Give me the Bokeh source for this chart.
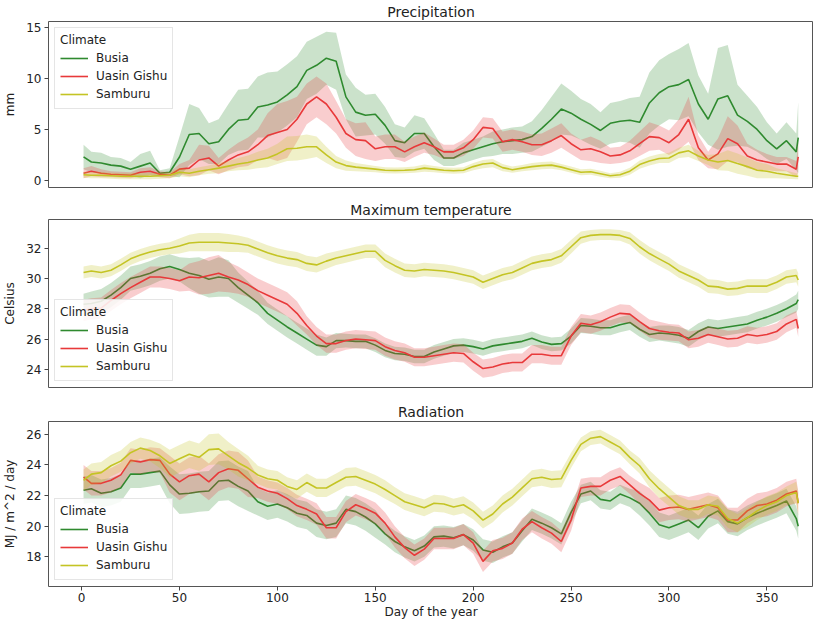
from bokeh.plotting import figure
from bokeh.layouts import column
from bokeh.models import Range1d, FixedTicker
from bokeh.embed import file_html
from bokeh.resources import INLINE

FONT = "DejaVu Sans"

# Day of the year at which values were read
days = [1, 5, 10, 15, 20, 25, 30, 35, 40, 45,
        50, 55, 60, 65, 70, 75, 80, 85, 90, 95,
        100, 105, 110, 115, 120, 125, 130, 135, 140, 145,
        150, 155, 160, 165, 170, 175, 180, 185, 190, 195,
        200, 205, 210, 215, 220, 225, 230, 235, 240, 245,
        250, 255, 260, 265, 270, 275, 280, 285, 290, 295,
        300, 305, 310, 315, 320, 325, 330, 335, 340, 345,
        350, 355, 360, 365, 366]

climates = ["Busia", "Uasin Gishu", "Samburu"]
colors = ["#2f8a2f", "#e8393a", "#c4c424"]

# ---------------- Precipitation (mm) ----------------
prec_busia = [2.3, 1.8, 1.7, 1.5, 1.4, 1.1, 1.4, 1.7, 0.7, 0.8,
              2.3, 4.5, 4.6, 3.6, 3.8, 5.0, 5.9, 6.0, 7.2, 7.4,
              7.7, 8.4, 9.2, 10.8, 11.3, 12.0, 11.7, 8.2, 6.7, 6.4,
              6.5, 5.4, 3.9, 3.7, 4.6, 4.6, 3.3, 2.2, 2.2, 2.7,
              3.0, 3.3, 3.6, 3.8, 3.9, 4.0, 4.3, 5.1, 6.0, 7.0,
              6.6, 6.0, 5.5, 4.9, 5.6, 5.8, 5.9, 5.7, 7.6, 8.6,
              9.2, 9.4, 9.9, 7.5, 6.0, 8.0, 8.3, 6.4, 5.8, 5.0,
              3.9, 3.1, 3.9, 2.8, 4.2]
prec_busia_sd = [1.2, 1.0, 1.0, 0.8, 0.8, 0.7, 1.2, 1.2, 0.3, 0.4,
                 2.0, 3.0, 2.5, 2.0, 2.2, 2.5, 3.0, 3.0, 3.0, 3.2,
                 3.0, 3.0, 3.0, 2.8, 2.8, 2.6, 2.8, 2.2, 2.4, 2.0,
                 2.0, 1.8, 1.6, 1.5, 1.8, 1.5, 1.3, 0.8, 0.8, 1.0,
                 1.0, 1.0, 1.2, 1.2, 1.3, 1.3, 1.5, 1.8, 2.2, 2.5,
                 2.2, 2.0, 2.0, 1.8, 2.0, 2.0, 2.2, 2.5, 3.0, 3.2,
                 3.2, 3.5, 3.6, 2.8, 2.5, 5.0, 5.0, 3.0, 2.5, 2.2,
                 1.8, 1.5, 1.8, 1.8, 3.5]
prec_uasin = [0.7, 0.9, 0.7, 0.6, 0.55, 0.5, 0.8, 0.9, 0.6, 0.5,
              1.1, 1.2, 2.0, 2.2, 1.4, 2.0, 2.5, 2.8, 3.5, 4.4,
              4.7, 5.0, 6.0, 7.5, 8.2, 7.5, 6.2, 4.6, 4.0, 3.9,
              3.1, 3.3, 3.3, 2.8, 3.3, 3.7, 3.3, 2.8, 2.8, 3.2,
              4.0, 5.2, 5.1, 3.8, 4.0, 3.8, 3.5, 3.5, 3.9, 4.4,
              3.6, 3.0, 3.1, 2.8, 2.4, 2.5, 2.9, 3.6, 4.3, 4.2,
              3.7, 4.5, 6.0, 3.2, 2.0, 2.6, 4.1, 3.6, 2.4, 2.0,
              1.8, 1.6, 1.6, 1.1, 2.3]
prec_uasin_sd = [0.5, 0.5, 0.4, 0.3, 0.3, 0.3, 0.4, 0.4, 0.3, 0.3,
                 0.5, 0.8, 1.5, 1.2, 0.8, 1.0, 1.2, 1.4, 1.5, 2.2,
                 2.8, 2.8, 2.2, 2.0, 2.0, 2.0, 1.6, 1.4, 1.6, 1.8,
                 1.2, 1.2, 1.2, 1.0, 1.0, 1.0, 0.8, 0.7, 0.7, 0.8,
                 0.9, 1.0, 1.0, 1.0, 1.0, 1.0, 1.0, 1.1, 1.2, 1.2,
                 1.0, 1.0, 1.2, 1.1, 0.8, 0.8, 1.0, 1.2, 1.4, 1.2,
                 1.2, 1.5, 2.2, 1.2, 0.8, 1.5, 2.2, 1.8, 1.2, 1.0,
                 0.8, 0.7, 0.7, 0.8, 1.5]
prec_samburu = [0.55, 0.5, 0.5, 0.45, 0.4, 0.4, 0.4, 0.4, 0.45, 0.5,
                0.8, 0.7, 0.9, 1.05, 1.2, 1.4, 1.6, 1.75, 2.0, 2.2,
                2.6, 3.1, 3.15, 3.3, 3.3, 2.5, 1.8, 1.45, 1.3, 1.2,
                1.1, 1.0, 0.97, 1.0, 1.05, 1.2, 1.1, 1.0, 0.95, 1.0,
                1.35, 1.6, 1.7, 1.25, 1.05, 1.2, 1.35, 1.45, 1.5, 1.3,
                1.05, 0.8, 0.85, 0.65, 0.45, 0.55, 0.9, 1.55, 1.9, 2.15,
                2.2, 2.7, 2.9, 2.4, 2.0, 1.8, 1.95, 1.65, 1.35, 1.0,
                0.9, 0.7, 0.55, 0.4, 0.4]
prec_samburu_sd = [0.3, 0.3, 0.3, 0.3, 0.3, 0.3, 0.3, 0.3, 0.3, 0.3,
                   0.4, 0.4, 0.4, 0.4, 0.5, 0.5, 0.6, 0.7, 0.8, 0.9,
                   1.0, 1.2, 1.2, 1.2, 1.0, 0.8, 0.6, 0.5, 0.4, 0.35,
                   0.3, 0.3, 0.3, 0.3, 0.3, 0.35, 0.3, 0.3, 0.3, 0.3,
                   0.35, 0.4, 0.4, 0.35, 0.3, 0.3, 0.35, 0.35, 0.35, 0.3,
                   0.3, 0.3, 0.3, 0.3, 0.25, 0.3, 0.35, 0.4, 0.45, 0.45,
                   0.5, 0.5, 0.6, 0.5, 0.5, 0.8, 1.0, 1.0, 0.9, 0.8,
                   0.7, 0.5, 0.4, 0.3, 0.3]

# ---------------- Maximum temperature (Celsius) ----------------
tmax_busia = [28.3, 28.35, 28.5, 28.9, 29.4, 30.0, 30.15, 30.35, 30.65, 30.8,
              30.6, 30.35, 30.2, 29.95, 30.1, 30.0, 29.4, 28.9, 28.4, 27.7,
              27.25, 26.8, 26.4, 26.0, 25.6, 25.5, 25.9, 25.9, 25.85, 25.85,
              25.6, 25.25, 25.05, 25.0, 24.85, 24.85, 25.15, 25.35, 25.55, 25.6,
              25.5, 25.35, 25.55, 25.65, 25.75, 25.85, 26.05, 25.8, 25.65, 25.7,
              26.2, 26.9, 26.85, 26.75, 26.75, 26.95, 27.1, 26.65, 26.3, 26.4,
              26.35, 26.25, 26.05, 26.5, 26.8, 26.7, 26.8, 26.9, 27.0, 27.25,
              27.45, 27.7, 28.0, 28.35, 28.6]
tmax_busia_sd = [0.7, 0.8, 0.8, 0.8, 0.8, 0.8, 0.8, 0.8, 0.8, 0.8,
                 0.8, 1.0, 1.2, 1.2, 1.3, 1.2, 1.0, 0.9, 0.8, 0.7,
                 0.7, 0.7, 0.7, 0.7, 0.7, 0.6, 0.5, 0.45, 0.45, 0.45,
                 0.45, 0.45, 0.45, 0.45, 0.45, 0.45, 0.45, 0.45, 0.45, 0.45,
                 0.45, 0.45, 0.45, 0.45, 0.45, 0.45, 0.45, 0.45, 0.45, 0.45,
                 0.5, 0.5, 0.5, 0.5, 0.5, 0.5, 0.5, 0.5, 0.5, 0.5,
                 0.55, 0.55, 0.55, 0.55, 0.55, 0.55, 0.55, 0.55, 0.55, 0.55,
                 0.55, 0.55, 0.55, 0.6, 0.6]
tmax_uasin = [27.9, 28.0, 28.05, 28.55, 29.0, 29.4, 29.75, 30.1, 30.1, 30.0,
              29.85, 30.1, 30.05, 30.2, 30.35, 30.1, 29.9, 29.6, 29.2, 28.9,
              28.6, 28.3, 27.7, 26.9, 26.2, 25.7, 25.7, 25.9, 26.0, 25.95,
              25.9, 25.5, 25.25, 25.1, 24.8, 24.8, 24.9, 25.0, 25.1, 25.05,
              24.5, 24.05, 24.15, 24.35, 24.45, 24.45, 25.0, 25.0, 24.9, 24.9,
              26.2, 27.05, 26.95, 27.15, 27.45, 27.7, 27.65, 27.15, 26.7, 26.55,
              26.45, 26.4, 25.95, 26.05, 26.3, 26.15, 26.0, 26.05, 26.3, 26.2,
              26.3, 26.5, 27.0, 27.3, 26.7]
tmax_uasin_sd = [0.7, 0.7, 0.7, 0.7, 0.7, 0.7, 0.7, 0.7, 0.7, 0.7,
                 0.7, 0.9, 1.1, 1.2, 1.2, 1.0, 0.9, 0.8, 0.8, 0.8,
                 0.8, 0.8, 0.8, 0.6, 0.6, 0.6, 0.6, 0.6, 0.6, 0.6,
                 0.6, 0.6, 0.6, 0.6, 0.6, 0.6, 0.6, 0.6, 0.6, 0.6,
                 0.6, 0.6, 0.6, 0.6, 0.6, 0.6, 0.6, 0.6, 0.6, 0.6,
                 0.6, 0.6, 0.6, 0.6, 0.6, 0.6, 0.6, 0.6, 0.6, 0.6,
                 0.55, 0.55, 0.55, 0.55, 0.55, 0.55, 0.55, 0.55, 0.55, 0.55,
                 0.55, 0.55, 0.55, 0.55, 0.55]
tmax_samburu = [30.4, 30.5, 30.4, 30.55, 30.9, 31.3, 31.55, 31.75, 31.9, 32.0,
                32.15, 32.35, 32.4, 32.4, 32.4, 32.35, 32.3, 32.2, 31.95, 31.7,
                31.5, 31.35, 31.25, 31.0, 30.9, 31.15, 31.35, 31.5, 31.65, 31.8,
                31.8, 31.2, 30.85, 30.55, 30.5, 30.6, 30.55, 30.5, 30.4, 30.25,
                30.1, 29.75, 30.0, 30.25, 30.4, 30.7, 31.0, 31.15, 31.25, 31.5,
                32.1, 32.7, 32.85, 32.9, 32.9, 32.85, 32.65, 32.1, 31.65, 31.3,
                30.95, 30.5, 30.2, 29.9, 29.5, 29.45, 29.3, 29.35, 29.5, 29.5,
                29.5, 29.75, 30.1, 30.2, 29.9]
tmax_samburu_sd = [0.4, 0.4, 0.4, 0.4, 0.4, 0.4, 0.4, 0.4, 0.4, 0.4,
                   0.5, 0.55, 0.6, 0.6, 0.6, 0.6, 0.55, 0.5, 0.5, 0.5,
                   0.5, 0.5, 0.5, 0.5, 0.5, 0.5, 0.45, 0.45, 0.45, 0.45,
                   0.45, 0.45, 0.45, 0.45, 0.45, 0.45, 0.45, 0.45, 0.45, 0.45,
                   0.45, 0.45, 0.45, 0.45, 0.45, 0.45, 0.45, 0.45, 0.45, 0.45,
                   0.45, 0.4, 0.35, 0.35, 0.35, 0.35, 0.4, 0.45, 0.45, 0.45,
                   0.45, 0.45, 0.45, 0.45, 0.45, 0.45, 0.45, 0.45, 0.45, 0.45,
                   0.45, 0.45, 0.45, 0.45, 0.45]

# ---------------- Radiation (MJ / m^2 / day) ----------------
rad_busia = [22.35, 22.45, 22.15, 22.25, 22.5, 23.4, 23.4, 23.5, 23.6, 22.7,
             22.1, 22.15, 22.25, 22.3, 22.95, 23.0, 22.6, 22.3, 21.6, 21.3,
             21.45, 21.2, 20.85, 20.7, 20.2, 20.05, 20.2, 21.1, 20.95, 20.6,
             20.15, 19.5, 19.0, 18.65, 18.4, 18.7, 19.3, 19.35, 19.25, 19.45,
             19.1, 18.45, 18.3, 18.65, 18.9, 19.7, 20.45, 20.2, 19.9, 19.5,
             20.9, 22.1, 22.3, 21.75, 21.65, 22.1, 21.85, 21.5, 20.85, 20.1,
             19.9, 20.15, 20.4, 19.9, 20.65, 21.0, 20.3, 20.15, 20.55, 20.85,
             21.1, 21.35, 21.65, 20.5, 20.0]
rad_busia_sd = [0.9, 0.9, 0.9, 0.9, 0.9, 0.9, 0.9, 0.9, 0.9, 1.2,
                1.3, 1.3, 1.3, 1.3, 1.3, 1.3, 1.3, 1.3, 0.9, 0.9,
                0.9, 0.9, 0.9, 0.9, 0.9, 0.9, 0.9, 0.9, 0.9, 0.9,
                0.9, 0.7, 0.7, 0.7, 0.7, 0.7, 0.7, 0.7, 0.7, 0.7,
                0.7, 0.7, 0.7, 0.7, 0.7, 0.7, 0.7, 0.7, 0.7, 0.7,
                0.7, 0.6, 0.6, 0.6, 0.6, 0.6, 0.6, 0.8, 0.8, 0.8,
                0.8, 0.8, 0.8, 0.8, 0.8, 0.8, 0.8, 0.8, 0.8, 0.8,
                0.8, 0.8, 0.8, 0.8, 0.8]
rad_uasin = [23.2, 22.8, 22.8, 23.0, 23.35, 24.3, 24.2, 24.35, 24.3, 23.4,
             22.9, 23.3, 23.4, 22.9, 23.5, 23.75, 23.65, 23.1, 22.55, 22.3,
             22.15, 21.8, 21.35, 21.1, 20.8, 19.9, 19.9, 20.95, 21.4, 21.15,
             20.85, 20.2, 19.3, 18.6, 18.1, 18.5, 19.2, 19.2, 19.2, 19.45,
             18.9, 17.7, 18.4, 18.55, 18.9, 19.8, 20.3, 19.9, 19.55, 19.0,
             20.4, 22.5, 22.6, 22.6, 23.0, 23.25, 22.7, 22.15, 21.7, 21.05,
             21.2, 21.25, 21.1, 21.25, 21.4, 21.2, 20.4, 20.4, 21.0, 21.35,
             21.45, 21.7, 22.1, 22.3, 21.5]
rad_uasin_sd = [0.8, 0.8, 0.8, 0.8, 0.8, 0.8, 0.8, 0.8, 0.8, 1.2,
                1.2, 1.2, 1.2, 1.2, 1.2, 1.2, 1.2, 1.2, 0.7, 0.7,
                0.7, 0.7, 0.7, 0.7, 0.7, 0.7, 0.7, 0.7, 0.7, 0.7,
                0.7, 0.7, 0.7, 0.7, 0.7, 0.7, 0.7, 0.7, 0.7, 0.7,
                0.7, 0.7, 0.7, 0.7, 0.7, 0.7, 0.7, 0.7, 0.7, 0.7,
                0.7, 0.6, 0.6, 0.6, 0.6, 0.6, 0.6, 0.7, 0.8, 0.8,
                0.8, 0.8, 0.8, 0.8, 0.8, 0.8, 0.8, 0.8, 0.8, 0.8,
                0.8, 0.8, 0.8, 0.8, 0.8]
rad_samburu = [23.0, 23.4, 23.5, 23.95, 24.25, 24.8, 25.1, 24.95, 24.6, 24.1,
               24.4, 24.7, 24.5, 25.0, 25.05, 24.6, 24.15, 23.8, 23.35, 23.1,
               23.0, 22.6, 22.4, 22.85, 22.5, 22.5, 22.85, 23.2, 23.25, 23.0,
               22.75, 22.4, 22.0, 21.6, 21.4, 21.2, 21.5, 21.45, 21.25, 21.4,
               21.0, 20.4, 20.8, 21.45, 21.9, 22.5, 23.1, 23.2, 23.05, 23.1,
               24.3, 25.35, 25.75, 25.85, 25.5, 25.15, 24.5, 23.95, 23.1, 22.45,
               21.9, 21.35, 21.1, 21.1, 21.4, 21.3, 20.5, 20.2, 20.55, 21.0,
               21.35, 21.6, 22.0, 22.2, 21.5]
rad_samburu_sd = [0.7, 0.7, 0.7, 0.7, 0.7, 0.7, 0.7, 0.7, 0.8, 0.9,
                  0.9, 0.9, 0.9, 1.0, 1.0, 0.9, 0.9, 0.8, 0.6, 0.6,
                  0.6, 0.6, 0.6, 0.6, 0.6, 0.6, 0.6, 0.6, 0.6, 0.6,
                  0.6, 0.6, 0.55, 0.55, 0.55, 0.55, 0.55, 0.55, 0.55, 0.55,
                  0.55, 0.55, 0.55, 0.55, 0.55, 0.55, 0.55, 0.55, 0.55, 0.55,
                  0.5, 0.45, 0.45, 0.45, 0.45, 0.45, 0.45, 0.5, 0.55, 0.6,
                  0.6, 0.6, 0.6, 0.6, 0.6, 0.6, 0.6, 0.6, 0.6, 0.6,
                  0.6, 0.6, 0.6, 0.7, 0.7]

x_ticks = [0, 50, 100, 150, 200, 250, 300, 350]
prec_ticks = [0, 5, 10, 15]
tmax_ticks = [24, 26, 28, 30, 32]
rad_ticks = [18, 20, 22, 24, 26]


def make_panel(title, ylabel, yrange, yticks, series, legend_loc,
               frame_h, btop, bbottom, show_x, clip0=False):
    p = figure(frame_width=765, frame_height=frame_h,
               x_range=Range1d(-16.9, 373.8), y_range=Range1d(*yrange),
               output_backend="svg", toolbar_location=None,
               min_border_left=42, min_border_right=0,
               min_border_top=btop, min_border_bottom=bbottom)
    p.title.text = title
    p.title.align = "center"
    p.title.text_font = FONT
    p.title.text_font_size = "14px"
    p.title.text_font_style = "normal"
    p.title.text_color = "#222222"
    p.title.standoff = 3
    p.outline_line_color = "#555555"
    p.outline_line_width = 1
    p.grid.visible = False
    for name, col, (mean, sd) in zip(climates, colors, series):
        lo = [max(0.0, m - s) if clip0 else m - s for m, s in zip(mean, sd)]
        hi = [m + s for m, s in zip(mean, sd)]
        p.varea(x=days, y1=lo, y2=hi, fill_color=col, fill_alpha=0.25)
        p.line(days, mean, line_color=col, line_width=1.6, legend_label=name)
    ax = p.yaxis[0]
    ax.ticker = FixedTicker(ticks=yticks)
    ax.axis_line_color = None
    ax.major_tick_in = 0
    ax.major_tick_out = 4
    ax.major_tick_line_color = "#444444"
    ax.minor_tick_line_color = None
    ax.major_label_text_font = FONT
    ax.major_label_text_font_size = "12px"
    ax.major_label_text_color = "#222222"
    ax.major_label_standoff = 3
    ax.axis_label = ylabel
    ax.axis_label_text_font = FONT
    ax.axis_label_text_font_size = "12px"
    ax.axis_label_text_font_style = "normal"
    ax.axis_label_text_color = "#222222"
    ax.axis_label_standoff = 6
    xa = p.xaxis[0]
    if show_x:
        xa.ticker = FixedTicker(ticks=x_ticks)
        xa.axis_line_color = None
        xa.major_tick_in = 0
        xa.major_tick_out = 4
        xa.major_tick_line_color = "#444444"
        xa.minor_tick_line_color = None
        xa.major_label_text_font = FONT
        xa.major_label_text_font_size = "12px"
        xa.major_label_text_color = "#222222"
        xa.major_label_standoff = 2
        xa.axis_label = "Day of the year"
        xa.axis_label_text_font = FONT
        xa.axis_label_text_font_size = "12px"
        xa.axis_label_text_font_style = "normal"
        xa.axis_label_text_color = "#222222"
        xa.axis_label_standoff = 0
    else:
        xa.visible = False
    lg = p.legend[0]
    lg.location = legend_loc
    lg.title = "Climate"
    lg.title_text_font = FONT
    lg.title_text_font_size = "12px"
    lg.title_text_font_style = "normal"
    lg.title_text_color = "#222222"
    lg.title_standoff = 2
    lg.label_text_font = FONT
    lg.label_text_font_size = "12px"
    lg.label_text_color = "#222222"
    lg.label_height = 18
    lg.glyph_height = 18
    lg.glyph_width = 28
    lg.label_standoff = 8
    lg.spacing = 0
    lg.padding = 5
    lg.margin = 6
    lg.border_line_color = "#cccccc"
    lg.background_fill_alpha = 0.85
    return p


p1 = make_panel("Precipitation", "mm", (-0.7, 15.6), prec_ticks,
                [(prec_busia, prec_busia_sd), (prec_uasin, prec_uasin_sd),
                 (prec_samburu, prec_samburu_sd)],
                "top_left", 166, 0, 11, False, clip0=True)
p2 = make_panel("Maximum temperature", "Celsius", (22.8, 33.9), tmax_ticks,
                [(tmax_busia, tmax_busia_sd), (tmax_uasin, tmax_uasin_sd),
                 (tmax_samburu, tmax_samburu_sd)],
                "bottom_left", 168, 0, 13, False)
p3 = make_panel("Radiation", "MJ / m^2 / day", (16.06, 26.84), rad_ticks,
                [(rad_busia, rad_busia_sd), (rad_uasin, rad_uasin_sd),
                 (rad_samburu, rad_samburu_sd)],
                "bottom_left", 165, 0, 0, True)

layout = column(p1, p2, p3, spacing=0)
open("out.html", "w").write(file_html(layout, INLINE))
